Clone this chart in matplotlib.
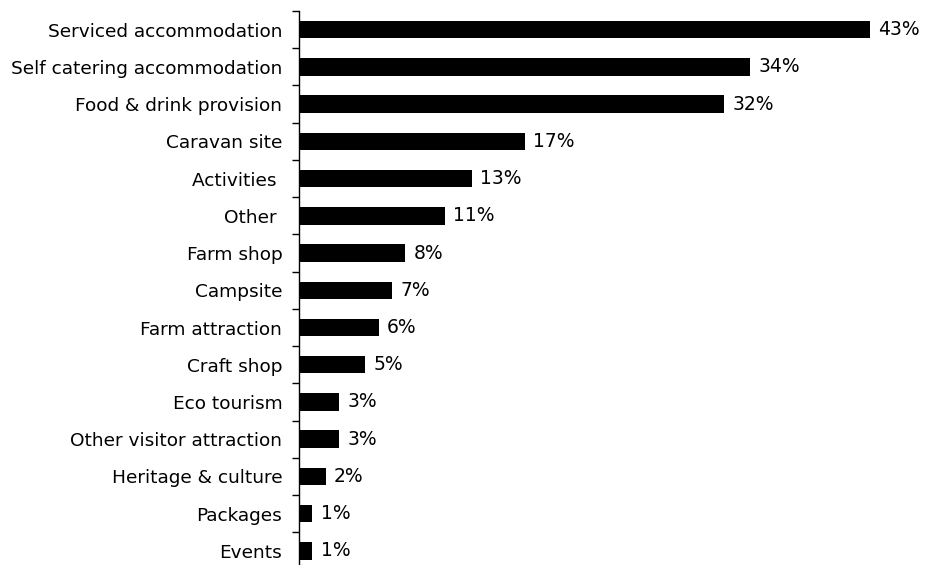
import matplotlib
matplotlib.use("Agg")
import matplotlib.pyplot as plt
import numpy as np

# Share of farm diversification activities by type
categories = [
    "Serviced accommodation",
    "Self catering accommodation",
    "Food & drink provision",
    "Caravan site",
    "Activities ",
    "Other ",
    "Farm shop",
    "Campsite",
    "Farm attraction",
    "Craft shop",
    "Eco tourism",
    "Other visitor attraction",
    "Heritage & culture",
    "Packages",
    "Events",
]
percentages = [43, 34, 32, 17, 13, 11, 8, 7, 6, 5, 3, 3, 2, 1, 1]

plt.rcParams["font.family"] = ["DejaVu Sans"]

fig = plt.figure(figsize=(9.25, 5.65), dpi=100)
ax = fig.add_axes([0.3232, -0.008, 0.646, 0.9885])

y = np.arange(len(categories))
ax.barh(y, percentages, height=0.47, color="black")

for yi, v in zip(y, percentages):
    ax.annotate(f"{v}%", xy=(v, yi), xytext=(6, 0), textcoords="offset points",
                va="center", ha="left", fontsize=13.5)

ax.set_ylim(len(categories) - 0.5, -0.5)
ax.set_xlim(0, 45)

# labels sit on the bars, tick marks sit between them
ax.set_yticks(y)
ax.set_yticklabels(categories, fontsize=13.3)
ax.tick_params(axis="y", which="major", length=0, pad=12)
ax.set_yticks(np.arange(-0.5, len(categories) + 0.5, 1), minor=True)
ax.tick_params(axis="y", which="minor", length=5, width=1, direction="out")
ax.set_xticks([])

for side in ["top", "right", "bottom"]:
    ax.spines[side].set_visible(False)
ax.spines["left"].set_linewidth(1)

fig.savefig("out.png", dpi=100)
